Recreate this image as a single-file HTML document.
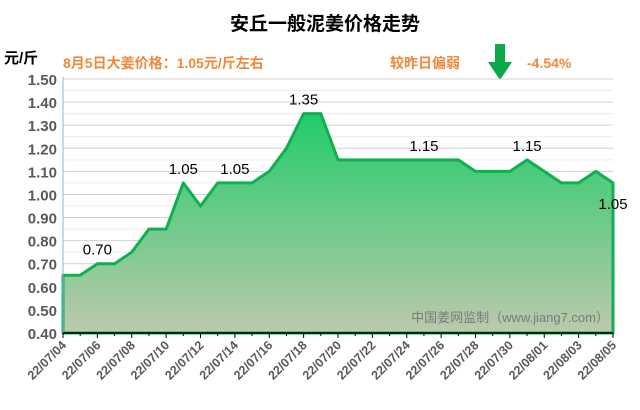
<!DOCTYPE html>
<html><head><meta charset="utf-8"><style>
body{margin:0;background:#fff;}
svg{display:block;font-family:"Liberation Sans","Noto Sans CJK SC",sans-serif;}
</style></head><body>
<svg id="c" width="640" height="410" viewBox="0 0 640 410">
<defs><linearGradient id="g" x1="0" y1="0" x2="0" y2="1">
<stop offset="0" stop-color="#22cc6a"/><stop offset="1" stop-color="#bdc9ad"/></linearGradient></defs>
<text x="325" y="30" text-anchor="middle" font-size="19" font-weight="bold" fill="#000">安丘一般泥姜价格走势</text>
<text x="4" y="63" font-size="15" font-weight="bold" fill="#000">元/斤</text>
<text x="63" y="68" font-size="14" font-weight="bold" fill="#f0883a">8月5日大姜价格：1.05元/斤左右</text>
<text x="390" y="68" font-size="14" font-weight="bold" fill="#f0883a">较昨日偏弱</text>
<polygon points="495,44 505,44 505,62 512,62 500,80 488,62 495,62" fill="#0aaa4a"/>
<text x="527" y="68" font-size="14" font-weight="bold" fill="#f0883a">-4.54%</text>
<g id="grid"></g><g id="plot"></g><g id="axes"></g>
</svg>
<script>
const categories=["22/07/04","22/07/05","22/07/06","22/07/07","22/07/08","22/07/09","22/07/10","22/07/11","22/07/12","22/07/13","22/07/14","22/07/15","22/07/16","22/07/17","22/07/18","22/07/19","22/07/20","22/07/21","22/07/22","22/07/23","22/07/24","22/07/25","22/07/26","22/07/27","22/07/28","22/07/29","22/07/30","22/07/31","22/08/01","22/08/02","22/08/03","22/08/04","22/08/05"];
const prices=[0.65,0.65,0.70,0.70,0.75,0.85,0.85,1.05,0.95,1.05,1.05,1.05,1.10,1.20,1.35,1.35,1.15,1.15,1.15,1.15,1.15,1.15,1.15,1.15,1.10,1.10,1.10,1.15,1.10,1.05,1.05,1.10,1.05];
const labelIdx=[2,7,10,14,21,27,32];
const yTicks=["0.40","0.50","0.60","0.70","0.80","0.90","1.00","1.10","1.20","1.30","1.40","1.50"];
const X0=63,X1=613,Y0=333,Y1=79,vmin=0.4,vmax=1.5;
const x=i=>X0+(X1-X0)*i/(categories.length-1);
const y=v=>Y0-(Y0-Y1)*(v-vmin)/(vmax-vmin);
const NS="http://www.w3.org/2000/svg";
function mk(t,a,p){const e=document.createElementNS(NS,t);for(const k in a)e.setAttribute(k,a[k]);p.appendChild(e);return e;}
const grid=document.getElementById('grid'),plot=document.getElementById('plot'),axes=document.getElementById('axes');
for(let k=0;k<=22;k++){const v=vmin+k*0.05;if(k===0)continue;
 const l=mk('line',{x1:X0,x2:X1,y1:y(v),y2:y(v),stroke:k%2===0?'#d0d0d0':'#ececec','stroke-width':1},grid);
 }
yTicks.forEach(t=>{const e=mk('text',{x:57,y:y(+t)+6,'text-anchor':'end','font-size':15,'font-weight':'bold',fill:'#595959'},axes);e.textContent=t;
 });
let pts=prices.map((v,i)=>x(i)+','+y(v)).join(' ');
const area=mk('polygon',{points:X0+','+Y0+' '+pts+' '+X1+','+Y0,fill:'url(#g)',stroke:'#10b050','stroke-width':3,'stroke-linejoin':'round'},plot);

mk('line',{x1:X0,x2:X0,y1:Y1-2,y2:Y0,stroke:'#8fb0d0','stroke-width':1},axes);
const ax=mk('line',{x1:X0,x2:X1,y1:Y0,y2:Y0,stroke:'#000','stroke-width':1.5},axes);

categories.forEach((c,i)=>{mk('line',{x1:x(i),x2:x(i),y1:Y0,y2:Y0+(i%2===0?5:3),stroke:'#000','stroke-width':1},axes);
 if(i%2===0){const e=mk('text',{x:x(i)+4,y:Y0+13,'text-anchor':'end','font-size':12.5,'font-weight':'bold',fill:'#595959',transform:'rotate(-45 '+(x(i)+4)+' '+(Y0+13)+')'},axes);e.textContent=c;
 }});
labelIdx.forEach(i=>{const e=mk('text',{x:x(i),y:y(prices[i])-9,'text-anchor':'middle','font-size':15,fill:'#000'},axes);
 if(i===prices.length-1){e.setAttribute('y',y(prices[i])+26);}
 e.textContent=prices[i].toFixed(2);});
const w=mk('text',{x:609,y:322,'text-anchor':'end','font-size':13,fill:'#7a7a7a'},axes);w.textContent='中国姜网监制（www.jiang7.com）';

</script>
</body></html>
